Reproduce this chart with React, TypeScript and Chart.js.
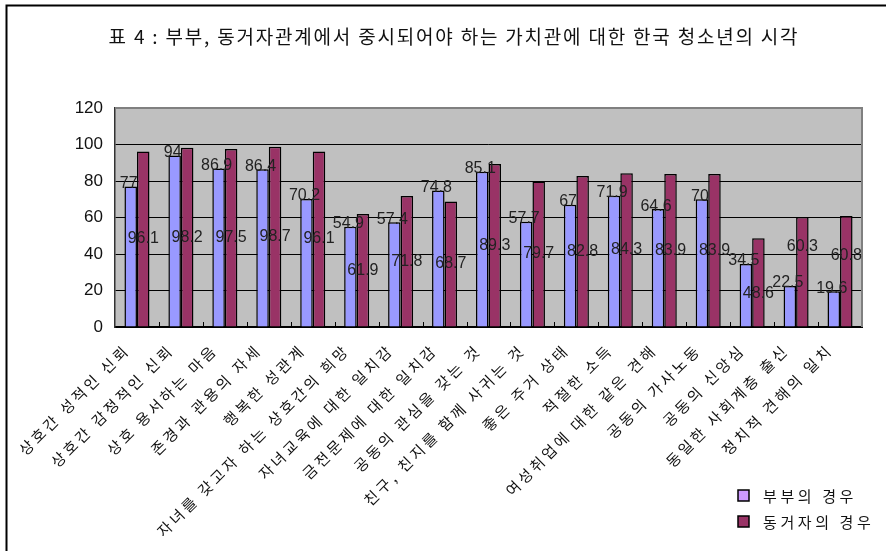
import React, { useEffect, useRef } from 'react';
import { Chart, registerables } from 'chart.js';

Chart.register(...registerables);

const TITLE = '표 4 : 부부, 동거자관계에서 중시되어야 하는 가치관에 대한 한국 청소년의 시각';

const categories = [
  '상호간 성적인 신뢰',
  '상호간 감정적인 신뢰',
  '상호 용서하는 마음',
  '존경과 관용의 자세',
  '행복한 성관계',
  '자녀를 갖고자 하는 상호간의 희망',
  '자녀교육에 대한 일치감',
  '금전문제에 대한 일치감',
  '공동의 관심을 갖는 것',
  '친구, 친지를 함께 사귀는 것',
  '좋은 주거 상태',
  '적절한 소득',
  '여성취업에 대한 같은 견해',
  '공동의 가사노동',
  '공동의 신앙심',
  '동일한 사회계층 출신',
  '정치적 견해의 일치',
];

const seriesNames = ['부부의 경우', '동거자의 경우'];

const marriedValues = [77, 94, 86.9, 86.4, 70.2, 54.9, 57.4, 74.8, 85.1, 57.7, 67, 71.9, 64.6, 70, 34.5, 22.5, 19.6];
const cohabitValues = [96.1, 98.2, 97.5, 98.7, 96.1, 61.9, 71.8, 68.7, 89.3, 79.7, 82.8, 84.3, 83.9, 83.9, 48.6, 60.3, 60.8];

const Y_MIN = 0;
const Y_MAX = 120;
const Y_STEP = 20;

const BAR_COLORS = ['#9999FF', '#993366'];
const LEGEND_COLORS = ['#CC99FF', '#993366'];

const KR_FONT = '"Noto Sans CJK KR", "Noto Sans", sans-serif';
const NUM_FONT = '"Liberation Sans", Arial, sans-serif';

// manual vertical nudges (px) of a few value labels of the second series, as in the original
const cohabitLabelNudge: Record<number, number> = { 14: 11, 15: -25, 16: -16 };

const decorPlugin = {
  id: 'decor',
  beforeDraw(chart: any) {
    const { ctx, chartArea: a } = chart;
    ctx.save();
    ctx.fillStyle = '#ffffff';
    ctx.fillRect(0, 0, chart.width, chart.height);
    // outer frame (left and top edges visible)
    ctx.strokeStyle = '#000';
    ctx.lineWidth = 2;
    ctx.beginPath();
    ctx.moveTo(6.5, chart.height + 10);
    ctx.lineTo(6.5, 5.5);
    ctx.lineTo(chart.width + 10, 5.5);
    ctx.stroke();
    // plot background
    ctx.fillStyle = '#C0C0C0';
    ctx.fillRect(a.left, a.top, a.right - a.left, a.bottom - a.top);
    // title
    ctx.fillStyle = '#111';
    ctx.font = '19px ' + KR_FONT;
    (ctx as any).letterSpacing = '1.8px';
    ctx.textAlign = 'center';
    ctx.textBaseline = 'middle';
    ctx.fillText(TITLE, 454, 37);
    ctx.restore();
  },
  beforeDatasetsDraw(chart: any) {
    const { ctx, chartArea: a } = chart;
    const xs = chart.scales.x;
    ctx.save();
    // gray top / right border of plot area
    ctx.strokeStyle = '#808080';
    ctx.lineWidth = 2;
    ctx.beginPath();
    ctx.moveTo(a.left, a.top);
    ctx.lineTo(a.right, a.top);
    ctx.lineTo(a.right, a.bottom);
    ctx.stroke();
    // small tick marks between categories
    ctx.strokeStyle = '#000';
    ctx.lineWidth = 1;
    for (let i = 1; i < categories.length; i++) {
      const x = Math.round((xs.getPixelForValue(i - 1) + xs.getPixelForValue(i)) / 2) + 0.5;
      ctx.beginPath();
      ctx.moveTo(x, a.bottom);
      ctx.lineTo(x, a.bottom - 5);
      ctx.stroke();
    }
    ctx.restore();
  },
  afterDatasetsDraw(chart: any) {
    const { ctx } = chart;
    ctx.save();
    ctx.font = '16px ' + NUM_FONT;
    ctx.fillStyle = '#222';
    ctx.textAlign = 'center';
    ctx.textBaseline = 'middle';
    const m0 = chart.getDatasetMeta(0);
    const m1 = chart.getDatasetMeta(1);
    m0.data.forEach((bar: any, i: number) => {
      ctx.fillText(String(marriedValues[i]), bar.x - 2, bar.y - 3);
    });
    m1.data.forEach((bar: any, i: number) => {
      const nudge = cohabitLabelNudge[i] || 0;
      ctx.fillText(String(cohabitValues[i]), bar.x, (bar.y + bar.base) / 2 + nudge);
    });
    ctx.restore();
  },
  afterDraw(chart: any) {
    const { ctx, chartArea: a } = chart;
    const xs = chart.scales.x;
    ctx.save();
    // rotated category labels
    ctx.font = '15px ' + KR_FONT;
    (ctx as any).letterSpacing = '3.2px';
    ctx.fillStyle = '#111';
    ctx.textAlign = 'right';
    ctx.textBaseline = 'middle';
    categories.forEach((label, i) => {
      const x = xs.getPixelForValue(i);
      ctx.save();
      ctx.translate(x - 10, a.bottom + 20);
      ctx.rotate(-Math.PI / 4);
      ctx.fillText(label, 0, 0);
      ctx.restore();
    });
    // legend
    (ctx as any).letterSpacing = '3.6px';
    const lx = 738;
    const ly = [490, 516];
    ctx.textAlign = 'left';
    seriesNames.forEach((name, i) => {
      ctx.fillStyle = LEGEND_COLORS[i];
      ctx.fillRect(lx, ly[i], 11, 11);
      ctx.strokeStyle = '#000';
      ctx.lineWidth = 1.5;
      ctx.strokeRect(lx, ly[i], 11, 11);
      ctx.fillStyle = '#111';
      ctx.fillText(name, lx + 25, ly[i] + 6);
    });
    ctx.restore();
  },
};

export default function App() {
  const ref = useRef<HTMLCanvasElement | null>(null);

  useEffect(() => {
    if (!ref.current) return;
    const chart = new Chart(ref.current, {
      type: 'bar',
      data: {
        labels: categories,
        datasets: [
          {
            label: seriesNames[0],
            data: marriedValues,
            backgroundColor: BAR_COLORS[0],
            borderColor: '#000',
            borderWidth: 1.5,
            barPercentage: 1,
            categoryPercentage: 0.57,
          },
          {
            label: seriesNames[1],
            data: cohabitValues,
            backgroundColor: BAR_COLORS[1],
            borderColor: '#000',
            borderWidth: 1.5,
            barPercentage: 1,
            categoryPercentage: 0.57,
          },
        ],
      },
      options: {
        responsive: false,
        animation: false,
        devicePixelRatio: 1,
        layout: { padding: { left: 75, top: 108, right: 24, bottom: 0 } },
        plugins: {
          legend: { display: false },
          title: { display: false },
          tooltip: { enabled: false },
        },
        scales: {
          x: {
            offset: true,
            grid: { display: false, drawTicks: false },
            border: { display: true, color: '#000', width: 2 },
            ticks: { display: false },
            afterFit(scale: any) {
              scale.height = 224;
            },
          },
          y: {
            min: Y_MIN,
            max: Y_MAX,
            ticks: {
              stepSize: Y_STEP,
              color: '#111',
              padding: 12,
              font: { family: NUM_FONT, size: 17 },
            },
            grid: { color: '#000', lineWidth: 1, drawTicks: false },
            border: { display: true, color: '#333', width: 1.5 },
            afterFit(scale: any) {
              scale.width = 40;
            },
          },
        },
      },
      plugins: [decorPlugin],
    });
    return () => chart.destroy();
  }, []);

  return (
    <div style={{ position: 'fixed', left: 0, top: 0, width: 886, height: 551, background: '#fff' }}>
      <canvas ref={ref} width={886} height={551} style={{ display: 'block' }} />
    </div>
  );
}
